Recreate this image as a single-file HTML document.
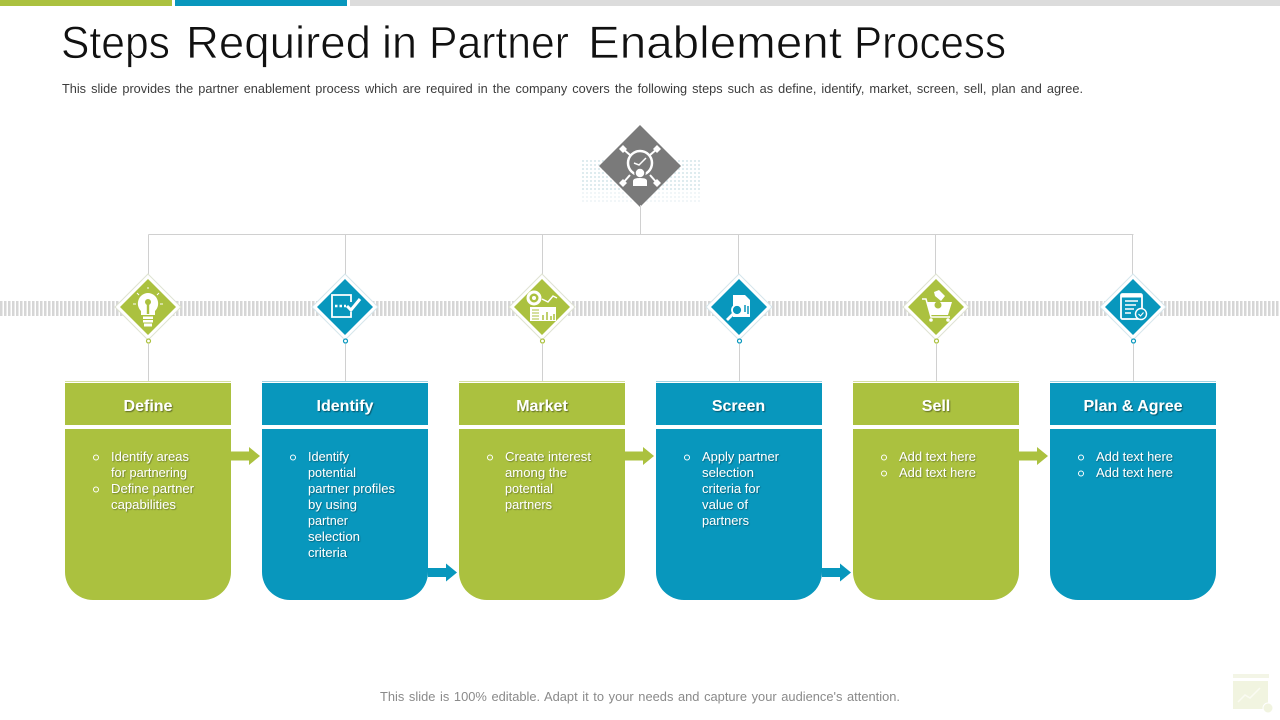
<!DOCTYPE html>
<html><head><meta charset="utf-8"><style>
html,body{margin:0;padding:0;background:#fff;width:1280px;height:720px;overflow:hidden}
svg{display:block}
text{font-family:"Liberation Sans",sans-serif}
.h{font-size:16px;font-weight:bold;fill:#fff;text-anchor:middle;filter:url(#s)}
.b{font-size:12.500px;fill:#fff;filter:url(#s2)}
.t{font-size:45px;fill:#111;stroke:#fff;stroke-width:.7px}
.w{fill:#fff}
.w1{fill:none;stroke:#fff;stroke-width:1.500}
</style></head><body>
<svg width="1280" height="720" viewBox="0 0 1280 720" xmlns="http://www.w3.org/2000/svg">
<defs>
<pattern id="st" x="0" y="0" width="4" height="15" patternUnits="userSpaceOnUse"><rect width="2.500" height="15" fill="#d6d6d6"/></pattern>
<pattern id="dt" x="582" y="160" width="4" height="4" patternUnits="userSpaceOnUse"><rect width="2" height="2" fill="#dfecef"/></pattern>
<filter id="s" x="-20%" y="-20%" width="140%" height="140%"><feDropShadow dx="1" dy="1" stdDeviation="0.6" flood-color="#000" flood-opacity=".45"/></filter>
<filter id="s2" x="-20%" y="-20%" width="140%" height="140%"><feDropShadow dx="0.8" dy="0.8" stdDeviation="0.4" flood-color="#000" flood-opacity=".4"/></filter>
</defs>
<rect width="1280" height="720" fill="#fff"/>
<rect x="0" y="0" width="172" height="6" fill="#abc13f"/>
<rect x="175" y="0" width="172" height="6" fill="#0897bd"/>
<rect x="350" y="0" width="930" height="6" fill="#dcdcdc"/>

<text class="t" x="61" y="58" textLength="109" lengthAdjust="spacingAndGlyphs">Steps</text>
<text class="t" x="186" y="58" textLength="185" lengthAdjust="spacingAndGlyphs">Required</text>
<text class="t" x="382" y="58" textLength="35" lengthAdjust="spacingAndGlyphs">in</text>
<text class="t" x="429" y="58" textLength="140" lengthAdjust="spacingAndGlyphs">Partner</text>
<text class="t" x="588" y="58" textLength="254" lengthAdjust="spacingAndGlyphs">Enablement</text>
<text class="t" x="854" y="58" textLength="152" lengthAdjust="spacingAndGlyphs">Process</text>

<text x="62" y="93" font-size="12.500" word-spacing="1.500" fill="#3c3c3c" textLength="1021" lengthAdjust="spacingAndGlyphs">This slide provides the partner enablement process which are required in the company covers the following steps such as define, identify, market, screen, sell, plan and agree.</text>

<!-- centre -->
<rect x="582" y="160" width="118" height="32" fill="url(#dt)"/>
<rect x="582" y="192" width="118" height="10" fill="url(#dt)" opacity=".45"/>
<path d="M640 125L681 166L640 207L599 166Z" fill="#7a7a7a"/>
<g>
<path d="M630 155L623 149M650 155L657 149M630 175L623 183M650 175L657 183" stroke="#fff" stroke-width="2"/>
<path d="M623 145L627 149L623 153L619 149ZM657 145L661 149L657 153L653 149ZM623 179L627 183L623 187L619 183ZM657 179L661 183L657 187L653 183Z" class="w"/>
<circle cx="640" cy="163" r="12" fill="#7a7a7a" stroke="#fff" stroke-width="2.500"/>
<path d="M634 163L639 165L646 158" fill="none" stroke="#fff" stroke-width="1.500"/>
<circle cx="640" cy="173" r="5" fill="#fff" stroke="#7a7a7a" stroke-width="1.500"/>
<path d="M633 186V181Q633 178 640 178Q647 178 647 181V186Z" class="w"/>
</g>

<!-- connectors -->
<g stroke="#d0d0d0" stroke-width="1" fill="none">
<path d="M640.500 205V234.500M148.500 234.500H1133.500"/>
<path d="M148.500 234.500V278M345.500 234.500V278M542.500 234.500V278M738.500 234.500V278M935.500 234.500V278M1132.500 234.500V278"/>
<path d="M148.500 344V382M345.500 344V382M542.500 344V382M739.500 344V382M936.500 344V382M1133.500 344V382"/>
</g>
<rect x="0" y="301" width="1280" height="15" fill="url(#st)"/>

<!-- diamonds -->
<g fill="#fff" stroke="#dfe3d2" stroke-width="1">
<path d="M148 274L181 307L148 340L115 307Z"/>
<path d="M345 274L378 307L345 340L312 307Z" stroke="#d6e6ec"/>
<path d="M542 274L575 307L542 340L509 307Z"/>
<path d="M739 274L772 307L739 340L706 307Z" stroke="#d6e6ec"/>
<path d="M936 274L969 307L936 340L903 307Z"/>
<path d="M1133 274L1166 307L1133 340L1100 307Z" stroke="#d6e6ec"/>
</g>
<path d="M148 279L176 307L148 335L120 307Z" fill="#abc13f"/>
<path d="M345 279L373 307L345 335L317 307Z" fill="#0897bd"/>
<path d="M542 279L570 307L542 335L514 307Z" fill="#abc13f"/>
<path d="M739 279L767 307L739 335L711 307Z" fill="#0897bd"/>
<path d="M936 279L964 307L936 335L908 307Z" fill="#abc13f"/>
<path d="M1133 279L1161 307L1133 335L1105 307Z" fill="#0897bd"/>
<g fill="#fff" stroke-width="1.200">
<circle cx="148.500" cy="341" r="2" stroke="#abc13f"/>
<circle cx="345.500" cy="341" r="2" stroke="#0897bd"/>
<circle cx="542.500" cy="341" r="2" stroke="#abc13f"/>
<circle cx="739.500" cy="341" r="2" stroke="#0897bd"/>
<circle cx="936.500" cy="341" r="2" stroke="#abc13f"/>
<circle cx="1133.500" cy="341" r="2" stroke="#0897bd"/>
</g>

<!-- icons -->
<g>
<path d="M148 293a10.500 10.500 0 0 1 7 18v4h-14v-4a10.500 10.500 0 0 1 7-18Z" class="w"/>
<circle cx="148" cy="302" r="3" fill="#abc13f"/><rect x="146.800" y="303" width="2.400" height="11" fill="#abc13f"/>
<rect x="143" y="316.500" width="10" height="2.500" class="w"/><rect x="143" y="320" width="10" height="2.500" class="w"/><rect x="144" y="323.500" width="8" height="3" class="w"/>
<path d="M133 304h3M160 304h3M137 293l2 2M159 293l-2 2M148 287v2" stroke="#fff" stroke-width="1"/>
</g>
<g>
<path d="M351 312V317H332V295H351V302" fill="none" stroke="#fff" stroke-width="1.800"/>
<path d="M335 306h2.500M339.500 306h2.500M344 306h2" stroke="#fff" stroke-width="2.500"/>
<path d="M347 306L351 310L360 299" fill="none" stroke="#fff" stroke-width="3"/>
</g>
<g>
<circle cx="534" cy="298" r="6" fill="none" stroke="#fff" stroke-width="3"/><circle cx="534" cy="298" r="2" class="w"/>
<path d="M542 299L548 302L553 296L557 298" fill="none" stroke="#fff" stroke-width="1.500"/>
<rect x="530" y="307" width="26" height="14" class="w"/>
<path d="M532 310h7M532 313h7M532 316h7M532 319h7" stroke="#abc13f" stroke-width="1"/>
<path d="M543 320v-5M547 320v-8M551 320v-4M554 320v-6" stroke="#abc13f" stroke-width="1.500"/>
</g>
<g>
<path d="M733 295H745L750 300V317H733Z" class="w"/>
<path d="M745 312v-7M748 314v-8" stroke="#0897bd" stroke-width="1.500"/>
<circle cx="737" cy="310" r="5" fill="#0897bd" stroke="#fff" stroke-width="1.800"/>
<path d="M733 314L727 320" stroke="#fff" stroke-width="2.800"/>
</g>
<g>
<path d="M922 299H926L931 317H950" class="w1"/>
<path d="M927 302H952L948 315H930Z" class="w"/>
<circle cx="938" cy="305" r="3.500" fill="#abc13f"/>
<circle cx="931" cy="320" r="1.800" class="w"/><circle cx="948" cy="320" r="1.800" class="w"/>
<path d="M934 292L939 290L945 296L941 301L935 296Z" class="w"/>
</g>
<g>
<rect x="1121" y="294" width="21" height="25" rx="1.500" fill="none" stroke="#fff" stroke-width="1.800"/>
<rect x="1121" y="294" width="21" height="3.500" class="w"/>
<path d="M1125 301h13M1125 305h11M1125 309h9M1125 313h6" stroke="#fff" stroke-width="1.600"/>
<circle cx="1141" cy="314" r="5.500" fill="#0897bd" stroke="#fff" stroke-width="1.400"/>
<path d="M1138.500 314L1140.500 316L1143.500 312.500" fill="none" stroke="#fff" stroke-width="1.100"/>
</g>

<!-- cards -->
<g fill="none" stroke-width="1">
<path d="M65 381.500H231" stroke="#d5dfa0"/><path d="M262 381.500H428" stroke="#9fd3e3"/><path d="M459 381.500H625" stroke="#d5dfa0"/><path d="M656 381.500H822" stroke="#9fd3e3"/><path d="M853 381.500H1019" stroke="#d5dfa0"/><path d="M1050 381.500H1216" stroke="#9fd3e3"/>
</g>
<g fill="#abc13f">
<rect x="65" y="383" width="166" height="42"/><path d="M65 429H231V572a28 28 0 0 1-28 28H93a28 28 0 0 1-28-28Z"/>
<rect x="459" y="383" width="166" height="42"/><path d="M459 429H625V572a28 28 0 0 1-28 28H487a28 28 0 0 1-28-28Z"/>
<rect x="853" y="383" width="166" height="42"/><path d="M853 429H1019V572a28 28 0 0 1-28 28H881a28 28 0 0 1-28-28Z"/>
<path d="M231 451.500H249V447L260 456L249 465V460.500H231Z"/>
<path d="M625 451.500H643V447L654 456L643 465V460.500H625Z"/>
<path d="M1019 451.500H1037V447L1048 456L1037 465V460.500H1019Z"/>
</g>
<g fill="#0897bd">
<rect x="262" y="383" width="166" height="42"/><path d="M262 429H428V572a28 28 0 0 1-28 28H290a28 28 0 0 1-28-28Z"/>
<rect x="656" y="383" width="166" height="42"/><path d="M656 429H822V572a28 28 0 0 1-28 28H684a28 28 0 0 1-28-28Z"/>
<rect x="1050" y="383" width="166" height="42"/><path d="M1050 429H1216V572a28 28 0 0 1-28 28H1078a28 28 0 0 1-28-28Z"/>
<path d="M428 568H446V563.500L457 572.500L446 581.500V577H428Z"/>
<path d="M822 568H840V563.500L851 572.500L840 581.500V577H822Z"/>
</g>

<text class="h" x="148" y="411">Define</text>
<text class="h" x="345" y="411">Identify</text>
<text class="h" x="542" y="411">Market</text>
<text class="h" x="738.500" y="411">Screen</text>
<text class="h" x="936" y="411">Sell</text>
<text class="h" x="1133" y="411">Plan &amp; Agree</text>

<g fill="none" stroke="#fff" stroke-width="1">
<circle cx="96" cy="457.500" r="2.500"/><circle cx="96" cy="489.500" r="2.500"/>
<circle cx="293" cy="457.500" r="2.500"/>
<circle cx="490" cy="457.500" r="2.500"/>
<circle cx="687" cy="457.500" r="2.500"/>
<circle cx="884" cy="457.500" r="2.500"/><circle cx="884" cy="473.500" r="2.500"/>
<circle cx="1081" cy="457.500" r="2.500"/><circle cx="1081" cy="473.500" r="2.500"/>
</g>

<text class="b" x="111" y="461" textLength="78" lengthAdjust="spacingAndGlyphs">Identify areas</text>
<text class="b" x="111" y="477" textLength="76" lengthAdjust="spacingAndGlyphs">for partnering</text>
<text class="b" x="111" y="493" textLength="83" lengthAdjust="spacingAndGlyphs">Define partner</text>
<text class="b" x="111" y="509" textLength="65" lengthAdjust="spacingAndGlyphs">capabilities</text>

<text class="b" x="308" y="461" textLength="41" lengthAdjust="spacingAndGlyphs">Identify</text>
<text class="b" x="308" y="477" textLength="48" lengthAdjust="spacingAndGlyphs">potential</text>
<text class="b" x="308" y="493" textLength="87" lengthAdjust="spacingAndGlyphs">partner profiles</text>
<text class="b" x="308" y="509" textLength="49" lengthAdjust="spacingAndGlyphs">by using</text>
<text class="b" x="308" y="525" textLength="40" lengthAdjust="spacingAndGlyphs">partner</text>
<text class="b" x="308" y="541" textLength="52" lengthAdjust="spacingAndGlyphs">selection</text>
<text class="b" x="308" y="557" textLength="39" lengthAdjust="spacingAndGlyphs">criteria</text>

<text class="b" x="505" y="461" textLength="86" lengthAdjust="spacingAndGlyphs">Create interest</text>
<text class="b" x="505" y="477" textLength="62" lengthAdjust="spacingAndGlyphs">among the</text>
<text class="b" x="505" y="493" textLength="48" lengthAdjust="spacingAndGlyphs">potential</text>
<text class="b" x="505" y="509" textLength="47" lengthAdjust="spacingAndGlyphs">partners</text>

<text class="b" x="702" y="461" textLength="77" lengthAdjust="spacingAndGlyphs">Apply partner</text>
<text class="b" x="702" y="477" textLength="52" lengthAdjust="spacingAndGlyphs">selection</text>
<text class="b" x="702" y="493" textLength="58" lengthAdjust="spacingAndGlyphs">criteria for</text>
<text class="b" x="702" y="509" textLength="46" lengthAdjust="spacingAndGlyphs">value of</text>
<text class="b" x="702" y="525" textLength="47" lengthAdjust="spacingAndGlyphs">partners</text>

<text class="b" x="899" y="461" textLength="77" lengthAdjust="spacingAndGlyphs">Add text here</text>
<text class="b" x="899" y="477" textLength="77" lengthAdjust="spacingAndGlyphs">Add text here</text>
<text class="b" x="1096" y="461" textLength="77" lengthAdjust="spacingAndGlyphs">Add text here</text>
<text class="b" x="1096" y="477" textLength="77" lengthAdjust="spacingAndGlyphs">Add text here</text>

<text x="380" y="701" font-size="12.500" word-spacing="1" fill="#8a8a8a" textLength="520" lengthAdjust="spacingAndGlyphs">This slide is 100% editable. Adapt it to your needs and capture your audience's attention.</text>

<!-- watermark -->
<g>
<rect x="1233" y="674" width="36" height="4" fill="#f3f5e6"/>
<rect x="1233" y="681" width="35" height="28" fill="#f1f4e0"/>
<path d="M1238 702L1245 695L1250 698L1260 688" fill="none" stroke="#fafbf2" stroke-width="1.500"/>
<circle cx="1268" cy="708" r="5" fill="#f1f4e0" stroke="#fff"/>
</g>
</svg>
</body></html>
